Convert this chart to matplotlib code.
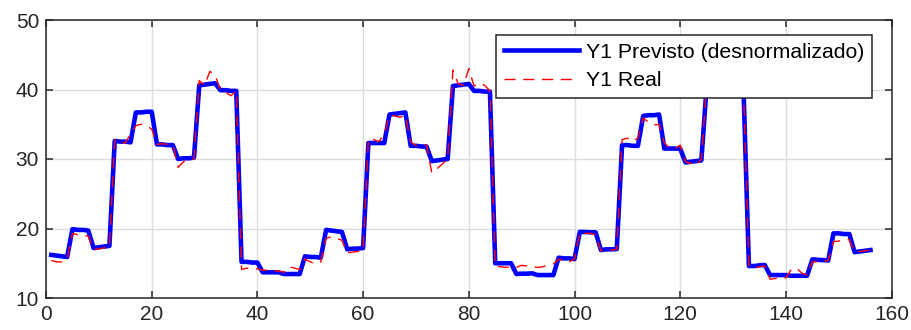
import matplotlib
matplotlib.use("Agg")
import matplotlib.pyplot as plt

# amostras (indice) e series
amostra = list(range(1, 157))

y1_previsto = [
    16.2, 16.1, 16.0, 15.9,  19.9, 19.8, 19.8, 19.7,  17.2, 17.3, 17.4, 17.5,
    32.6, 32.5, 32.5, 32.4,  36.7, 36.7, 36.8, 36.8,  32.1, 32.1, 32.0, 32.0,
    30.0, 30.1, 30.1, 30.2,  40.6, 40.7, 40.8, 40.9,  39.9, 39.9, 39.8, 39.8,
    15.2, 15.2, 15.1, 15.1,  13.7, 13.7, 13.7, 13.7,  13.45, 13.45, 13.45, 13.45,
    16.0, 15.9, 15.9, 15.8,  19.8, 19.7, 19.6, 19.5,  17.0, 17.1, 17.1, 17.2,
    32.3, 32.3, 32.3, 32.3,  36.4, 36.5, 36.6, 36.7,  31.9, 31.9, 31.8, 31.8,
    29.7, 29.8, 29.9, 30.0,  40.5, 40.6, 40.7, 40.8,  39.8, 39.8, 39.7, 39.7,
    15.0, 15.0, 15.0, 15.0,  13.45, 13.5, 13.5, 13.55,  13.3, 13.3, 13.3, 13.3,
    15.8, 15.7, 15.7, 15.6,  19.5, 19.5, 19.45, 19.45,  16.9, 17.0, 17.0, 17.05,
    32.0, 32.0, 31.9, 31.9,  36.2, 36.3, 36.3, 36.4,  31.5, 31.5, 31.5, 31.5,
    29.5, 29.6, 29.7, 29.8,  40.4, 40.5, 40.6, 40.7,  39.6, 39.6, 39.5, 39.5,
    14.6, 14.6, 14.7, 14.75,  13.3, 13.3, 13.3, 13.3,  13.2, 13.2, 13.2, 13.2,
    15.55, 15.5, 15.45, 15.4,  19.3, 19.3, 19.2, 19.2,  16.6, 16.7, 16.8, 16.9,
]

y1_real = [
    15.4, 15.2, 15.2, 15.6,  19.3, 19.1, 19.0, 18.9,  16.9, 17.1, 17.2, 17.3,
    32.8, 32.4, 32.3, 33.6,  34.8, 35.0, 34.8, 34.3,  32.1, 32.2, 32.1, 32.0,
    28.8, 29.6, 29.8, 30.0,  41.3, 40.6, 42.6, 42.1,  39.9, 39.6, 39.1, 39.8,
    14.1, 14.3, 14.2, 14.2,  14.0, 14.0, 13.9, 13.9,  13.7, 14.5, 14.3, 14.1,
    15.6, 15.2, 14.9, 15.2,  18.6, 18.8, 18.6, 18.3,  16.5, 16.6, 16.7, 16.9,
    32.9, 32.8, 32.5, 33.6,  36.3, 36.2, 36.0, 36.3,  32.5, 31.9, 32.0, 32.0,
    28.0, 28.6, 29.3, 30.0,  42.8, 40.8, 40.6, 43.0,  40.5, 40.9, 40.6, 39.8,
    14.6, 14.5, 14.4, 14.5,  14.4, 14.7, 14.6, 14.5,  14.4, 14.5, 14.7, 14.9,
    15.6, 15.3, 15.2, 15.6,  19.4, 19.3, 19.3, 19.1,  16.8, 16.9, 16.9, 17.0,
    32.8, 33.0, 32.5, 33.0,  35.9, 35.3, 34.9, 35.0,  32.3, 31.6, 31.5, 32.0,
    29.6, 29.4, 29.1, 30.0,  40.6, 40.8, 41.0, 40.6,  40.0, 39.8, 39.7, 39.6,
    14.6, 14.3, 14.5, 14.6,  12.7, 12.8, 12.9, 12.9,  14.1, 14.3, 13.6, 13.3,
    15.2, 15.2, 15.2, 15.4,  18.1, 18.2, 18.3, 18.4,  16.6, 16.7, 16.8, 16.9,
]

plt.rcParams['font.family'] = ['Liberation Sans', 'DejaVu Sans']
plt.rcParams['lines.scale_dashes'] = False

fig = plt.figure(figsize=(9.12, 3.3), dpi=100)
ax = fig.add_axes([46/912, 32/330, 845.6/912, 278/330])

ax.plot(amostra, y1_previsto, color=(0, 0, 1), linewidth=3.3,
        label="Y1 Previsto (desnormalizado)")
ax.plot(amostra, y1_real, color=(1, 0, 0), linewidth=1.0,
        dashes=(8, 5.5), label="Y1 Real")

ax.set_xlim(0, 160)
ax.set_ylim(10, 50)
ax.set_xticks(range(0, 161, 20))
ax.set_yticks(range(10, 51, 10))

ax.grid(True, color='#dcdcdc', linewidth=1)
ax.set_axisbelow(True)
for s in ax.spines.values():
    s.set_color('#262626')
    s.set_linewidth(1.1)
ax.tick_params(direction='in', length=5, width=1.1, color='#262626',
               top=True, right=True, labelsize=15, labelcolor='#262626', pad=5)

leg = ax.legend(loc='upper right', bbox_to_anchor=(0.977, 0.947), fontsize=15.3,
                handlelength=3.55, handletextpad=0.3, borderpad=0.38,
                labelspacing=0.45, fancybox=False, framealpha=1,
                borderaxespad=0)
leg.get_frame().set_edgecolor('#262626')
leg.get_frame().set_linewidth(1.1)

fig.savefig("out.png", dpi=100)
